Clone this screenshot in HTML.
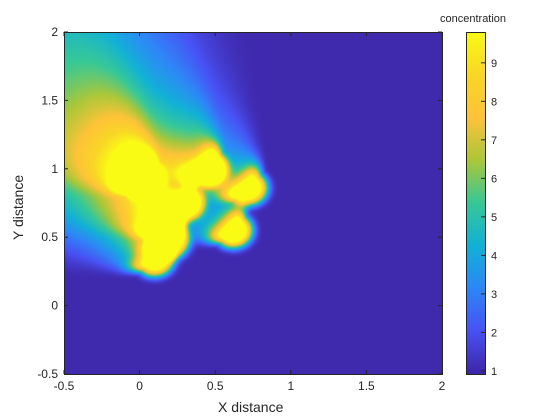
<!DOCTYPE html>
<html><head><meta charset="utf-8"><style>
html,body{margin:0;padding:0;background:#fff;width:560px;height:420px;overflow:hidden;font-family:"Liberation Sans",sans-serif;}
#wrap{position:relative;width:560px;height:420px;}
canvas{position:absolute;}
.t{position:absolute;font-size:12px;color:#262626;white-space:nowrap;}
</style></head><body>
<div id="wrap">
<canvas id="plot" width="378" height="342" style="left:64px;top:32px"></canvas>
<canvas id="cbar" width="19" height="342" style="left:466px;top:32px"></canvas>
<svg id="ov" width="560" height="420" style="position:absolute;left:0;top:0"></svg>
<div class="t" style="left:440px;top:13px;font-size:11px">concentration</div>
<div class="t" style="left:218px;top:399px;font-size:14px">X distance</div>
<div class="t" style="left:10px;top:240px;font-size:14px;transform:rotate(-90deg);transform-origin:0 0">Y distance</div>
</div>
<script>
// data
const xTicks=[-0.5,0,0.5,1,1.5,2];
const yTicks=[-0.5,0,0.5,1,1.5,2];
const cTicks=[1,2,3,4,5,6,7,8,9];
const srcX=[0.02,0.45,0.72,0.62,0.17,0.1,0.3,0.2];
const srcY=[0.92,1.0,0.86,0.55,0.6,0.34,0.75,0.47];
const srcQ=[11,10.5,10,10.5,11,10,9.5,10];
const cMin=0.92,cMax=9.8;
const X0=64,Y0=32,W=378,H=342,xmin=-0.5,xmax=2,ymin=-0.5,ymax=2;
const sx=v=>X0+(v-xmin)/(xmax-xmin)*W;
const sy=v=>Y0+H-(v-ymin)/(ymax-ymin)*H;
const par=[[0,62,38,168],[0.125,72,82,244],[0.25,46,135,247],[0.375,18,177,214],[0.5,55,200,151],[0.625,171,199,57],[0.75,254,195,56],[0.875,249,215,38],[1,249,251,21]];
function cmap(t){t=Math.max(0,Math.min(1,t));for(let i=1;i<par.length;i++){if(t<=par[i][0]){const a=par[i-1],b=par[i],f=(t-a[0])/(b[0]-a[0]);return [a[1]+f*(b[1]-a[1]),a[2]+f*(b[2]-a[2]),a[3]+f*(b[3]-a[3])];}}return par[par.length-1].slice(1);}
const dX=-0.74,dY=0.673,nX=0.673,nY=0.74;
const R=0.13,grow=0.62,decay=0.075;
function field(x,y){let c=1;for(let i=0;i<srcX.length;i++){const px=x-srcX[i],py=y-srcY[i];const s=px*dX+py*dY,cr=px*nX+py*nY;let v;
if(s<0){const r2=(s*s+cr*cr)/(R*R);v=srcQ[i]*Math.exp(-r2*r2);}
else{const w=R+grow*s;const q=(cr/w)*(cr/w);const g=Math.exp(-s*s/(2*0.06*0.06));const amp=g+(1-g)*decay/(decay+s);v=srcQ[i]*amp*Math.exp(-q*q);}
c+=v;}return Math.min(c,cMax);}
const pc=document.getElementById('plot').getContext('2d');const img=pc.createImageData(W,H);
for(let j=0;j<H;j++)for(let i=0;i<W;i++){const x=xmin+(i+0.5)/W*(xmax-xmin),y=ymax-(j+0.5)/H*(ymax-ymin);const col=cmap((field(x,y)-cMin)/(cMax-cMin));const k=(j*W+i)*4;img.data[k]=col[0];img.data[k+1]=col[1];img.data[k+2]=col[2];img.data[k+3]=255;}
pc.putImageData(img,0,0);
const cc=document.getElementById('cbar').getContext('2d');
for(let j=0;j<H;j++){const col=cmap(1-(j+0.5)/H);cc.fillStyle=`rgb(${col[0]|0},${col[1]|0},${col[2]|0})`;cc.fillRect(0,j,19,1);}
const ov=document.getElementById('ov');const NS='http://www.w3.org/2000/svg';
function el(t,a){const e=document.createElementNS(NS,t);for(const k in a)e.setAttribute(k,a[k]);ov.appendChild(e);return e;}
const box=el('rect',{x:X0+0.5,y:Y0+0.5,width:W,height:H,fill:'none',stroke:'#262626','stroke-width':1});


xTicks.forEach(v=>{const x=sx(v);el('line',{x1:x,x2:x,y1:Y0+H,y2:Y0+H-4,stroke:'#262626'});el('line',{x1:x,x2:x,y1:Y0,y2:Y0+4,stroke:'#262626'});
const t=el('text',{x:x,y:Y0+H+16,'text-anchor':'middle','font-size':12,fill:'#262626','font-family':'Liberation Sans'});t.textContent=v;

});
yTicks.forEach(v=>{const y=sy(v);el('line',{x1:X0,x2:X0+4,y1:y,y2:y,stroke:'#262626'});el('line',{x1:X0+W,x2:X0+W-4,y1:y,y2:y,stroke:'#262626'});
const t=el('text',{x:X0-6,y:y+4,'text-anchor':'end','font-size':12,fill:'#262626','font-family':'Liberation Sans'});t.textContent=v;

});
const cb=el('rect',{x:466.5,y:Y0+0.5,width:19,height:H,fill:'none',stroke:'#262626'});


cTicks.forEach(v=>{const y=Y0+H-(v-cMin)/(cMax-cMin)*H;el('line',{x1:481,x2:485,y1:y,y2:y,stroke:'#262626'});
const t=el('text',{x:491,y:y+4,'font-size':11,fill:'#262626','font-family':'Liberation Sans'});t.textContent=v;

});
</script>
</body></html>
